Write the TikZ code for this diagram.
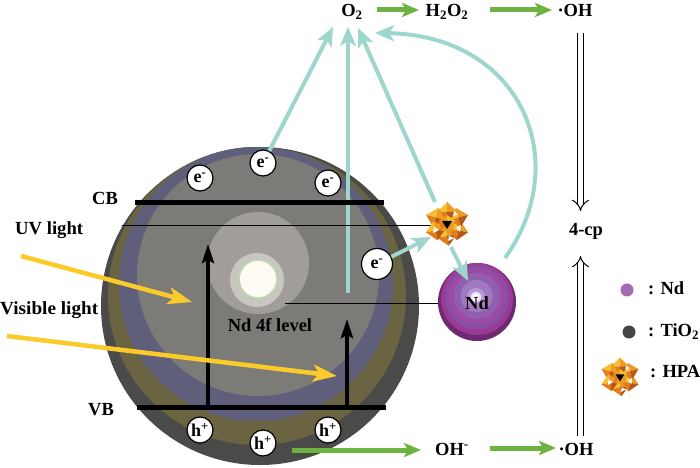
\documentclass[tikz,border=0pt]{standalone}
\usepackage{fontspec}
\usepackage{graphicx}
\setmainfont{Liberation Serif}
\usetikzlibrary{arrows.meta}
\definecolor{tealc}{HTML}{9DD6CC}
\definecolor{grnc}{HTML}{6CB33F}
\definecolor{yelc}{HTML}{FBCB2A}
\definecolor{sphA}{HTML}{4A4A48}
\definecolor{sphB}{HTML}{6A6442}
\definecolor{sphC}{HTML}{5F5F7C}
\definecolor{sphD}{HTML}{7D7B77}
\definecolor{sphE}{HTML}{A09D9B}
\definecolor{sphF}{HTML}{C9C5C1}
\definecolor{sphG}{HTML}{FFFAF3}
\definecolor{sphH}{HTML}{B8DCB0}
\definecolor{ndA}{HTML}{6E2A70}
\definecolor{ndB}{HTML}{9A3A96}
\definecolor{ndC}{HTML}{8A4EA0}
\definecolor{ndD}{HTML}{9C4AA4}
\definecolor{ndE}{HTML}{9060AE}
\definecolor{ndF}{HTML}{A07AC0}
\definecolor{ndG}{HTML}{B898D4}
\definecolor{ndH}{HTML}{E8D8F0}
\definecolor{legNd}{HTML}{A46CB0}
\definecolor{legTi}{HTML}{454545}
\definecolor{hpaY}{HTML}{F6C030}
\definecolor{hpaO}{HTML}{EE9A24}
\definecolor{hpaM}{HTML}{E07E1C}
\definecolor{hpaD}{HTML}{B85816}
\tikzset{
  lbl/.style={font=\bfseries\fontsize{18.5bp}{22bp}\selectfont, inner sep=0pt},
  charge/.style={circle, draw=black, line width=1.2bp, fill=white, minimum size=26bp, inner sep=0pt, font=\bfseries\fontsize{18bp}{20bp}\selectfont},
  tealarr/.style={draw=tealc, line width=4bp, -{Stealth[length=19bp,width=16bp,inset=5bp]}},
  grnarr/.style={draw=grnc, line width=5bp, -{Stealth[length=17bp,width=14bp,inset=4bp]}},
  yelarr/.style={draw=yelc, line width=4.5bp, -{Stealth[length=24bp,width=17bp,inset=6bp]}},
  blkarr/.style={draw=black, line width=4bp, -{Stealth[length=19bp,width=12bp,inset=3bp]}},
  dblarr/.style={double, double distance=5bp, line width=1bp, -{Implies}},
  thinline/.style={draw=black, line width=1bp},
  bandline/.style={draw=black, line width=5bp},
  hpa/.pic={
    \foreach \a/\r/\t in {90/12/10, 30/13/-10, -30/13/15, -90/12/0, -150/13/-15, 150/13/10} {
      \begin{scope}[shift={(\a:\r)}, rotate=\t]
        \fill[hpaY] (0,0) -- (-10,0) -- (0,-10) -- cycle;
        \fill[hpaO] (0,0) -- (0,-10) -- (10,0) -- cycle;
        \fill[hpaM] (0,0) -- (-10,0) -- (0,10) -- cycle;
        \fill[hpaD] (0,0) -- (10,0) -- (0,10) -- cycle;
      \end{scope}
    }
    \fill[hpaO] (0,-9) -- (8,-3) -- (6,7) -- (-6,7) -- (-8,-3) -- cycle;
    \fill[hpaY] (0,-9) -- (8,-3) -- (0,0) -- cycle;
    \fill[hpaM] (-6,7) -- (-8,-3) -- (0,0) -- cycle;
    \fill[white] (9,4) -- (14,1) -- (13,8) -- cycle;
    \fill[white] (-13,3) -- (-8,6) -- (-14,9) -- cycle;
    \fill[white] (2,12) -- (7,14) -- (1,17) -- cycle;
    \fill[white] (7,-13) -- (11,-10) -- (6,-8) -- cycle;
    \fill[black] (-5,-3) -- (5,-3) -- (0,5) -- cycle;
  }
}
\begin{document}
\begin{tikzpicture}[x=1bp,y=-1bp]
\fill[white] (0,0) rectangle (700,468);
\useasboundingbox (0,0) rectangle (700,468);

% TiO2 sphere
\fill[sphA] (260,306) circle[radius=159bp];
\fill[sphB] (257,296) circle[radius=149bp];
\fill[sphC] (256,284) circle[radius=137bp];
\fill[sphD] (258,275) circle[radius=121bp];
\fill[sphE] (258,263) circle[radius=51bp];
\fill[sphF] (257,280) circle[radius=27bp];
\filldraw[fill=sphG, draw=sphH, line width=1.5bp] (258,279) circle[radius=19bp];

% coordinates
\coordinate (o2a) at (333,27);
\coordinate (o2b) at (348,27);
\coordinate (o2c) at (358,28);
\coordinate (o2d) at (375,33);
\coordinate (v0) at (348,293);
\coordinate (hpac) at (447,224);
\coordinate (uvl1) at (442,226);
\coordinate (hpatop) at (435,202);
\coordinate (hpain) at (431,237);
\coordinate (hpaout) at (451,247);
\coordinate (ndin) at (468,281);
\coordinate (ndtop) at (505,258);
\coordinate (uvl0) at (122,226);
\coordinate (ndl0) at (285,304);
\coordinate (ndl1) at (450,304);
\coordinate (cb0) at (135,203);
\coordinate (cb1) at (384,203);
\coordinate (vb0) at (137,407);
\coordinate (vb1) at (386,407);
\coordinate (ba0) at (208,407);
\coordinate (ba1) at (208,244);
\coordinate (bb0) at (347,407);
\coordinate (bb1) at (347,319);
\coordinate (y10) at (21,256);
\coordinate (y11) at (192,302);
\coordinate (y20) at (7,336);
\coordinate (y21) at (337,376);

% vertical teal arrow (under band lines)
\draw[tealarr] (v0) -- (o2b);

% band lines and level lines
\draw[thinline] (uvl0) -- (uvl1);
\draw[thinline] (ndl0) -- (ndl1);
\draw[bandline] (cb0) -- (cb1);
\draw[bandline] (vb0) -- (vb1);

% excitation arrows
\draw[blkarr] (ba0) -- (ba1);
\draw[blkarr] (bb0) -- (bb1);
\draw[yelarr] (y10) -- (y11);
\draw[yelarr] (y20) -- (y21);

% charges
\node[charge] (e1) at (200,178) {e\textsuperscript{-}};
\node[charge] (e2) at (263,163) {e\textsuperscript{-}};
\node[charge] (e3) at (328,183) {e\textsuperscript{-}};
\node[charge, minimum size=31bp] (e4) at (377,264) {e\textsuperscript{-}};
\node[charge] (h1) at (200,430) {h\textsuperscript{+}};
\node[charge] (h2) at (263,443) {h\textsuperscript{+}};
\node[charge] (h3) at (328,430) {h\textsuperscript{+}};

% Nd sphere
\fill[ndA] (477,302) circle[radius=39bp];
\fill[ndB] (477,299) circle[radius=36bp];
\fill[ndC] (477,297.5) circle[radius=32bp];
\fill[ndD] (477,296.5) circle[radius=28bp];
\fill[ndE] (477,296) circle[radius=23bp];
\fill[ndF] (476.5,296) circle[radius=16bp];
\fill[ndG] (476,297) circle[radius=9bp];
\fill[ndH] (476,297) circle[radius=5.5bp];
\fill[white] (476,297) circle[radius=3.5bp];
\node[lbl, anchor=base] (ndt) at (477,310) {Nd};

% HPA cluster
\pic (hpa1) at (hpac) {hpa};

% teal arrows
\draw[tealarr] (e2) -- (o2a);
\draw[tealarr] (hpatop) -- (o2c);
\draw[tealarr] (ndtop) .. controls (575,160) and (520,35) .. (o2d);
\draw[tealarr] (e4) -- (hpain);
\draw[tealarr] (hpaout) -- (ndin);

% labels
\node[lbl, anchor=base] (o2) at (352,17) {O\textsubscript{2}};
\node[lbl, anchor=base] (h2o2) at (447,17) {H\textsubscript{2}O\textsubscript{2}};
\node[lbl, anchor=base] (ohtop) at (575,17) {·OH};
\node[lbl, anchor=base] (ohm) at (452,455) {OH\textsuperscript{-}};
\node[lbl, anchor=base] (ohbot) at (576,455) {·OH};
\node[lbl, anchor=base] (cp) at (586,236) {4-cp};
\node[lbl, anchor=base] (cb) at (105,205) {CB};
\node[lbl, anchor=base] (vb) at (101,415) {VB};
\node[lbl, anchor=base west] (uv) at (15,235) {\resizebox{68bp}{\height}{UV light}};
\node[lbl, anchor=base west] (vis) at (0,315) {\resizebox{98bp}{\height}{Visible light}};
\node[lbl, anchor=base] (nd4f) at (270,332) {Nd 4f level};

% green arrows
\coordinate (g1a) at (377,10); \coordinate (g1b) at (419,10);
\coordinate (g2a) at (490,10); \coordinate (g2b) at (552,10);
\coordinate (g3a) at (292,450); \coordinate (g3b) at (421,450);
\coordinate (g4a) at (490,448); \coordinate (g4b) at (556,448);
\draw[grnarr] (g1a) -- (g1b);
\draw[grnarr] (g2a) -- (g2b);
\draw[grnarr] (g3a) -- (g3b);
\draw[grnarr] (g4a) -- (g4b);

% double arrows
\coordinate (d1a) at (580.5,33); \coordinate (d1b) at (580.5,211);
\coordinate (d2a) at (580.5,436); \coordinate (d2b) at (580.5,256);
\draw[dblarr] (d1a) -- (d1b);
\draw[dblarr] (d2a) -- (d2b);

% legend
\fill[legNd] (627,290) circle[radius=6.5bp];
\node[lbl, anchor=base west] (legnd) at (648,295) {: Nd};
\fill[legTi] (629,332) circle[radius=6.5bp];
\node[lbl, anchor=base west] (legti) at (648,337) {: TiO\textsubscript{2}};
\pic[scale=0.88] (hpa2) at (620,377) {hpa};
\node[lbl, anchor=base west] (leghpa) at (650,377) {: HPA};
\end{tikzpicture}
\end{document}
